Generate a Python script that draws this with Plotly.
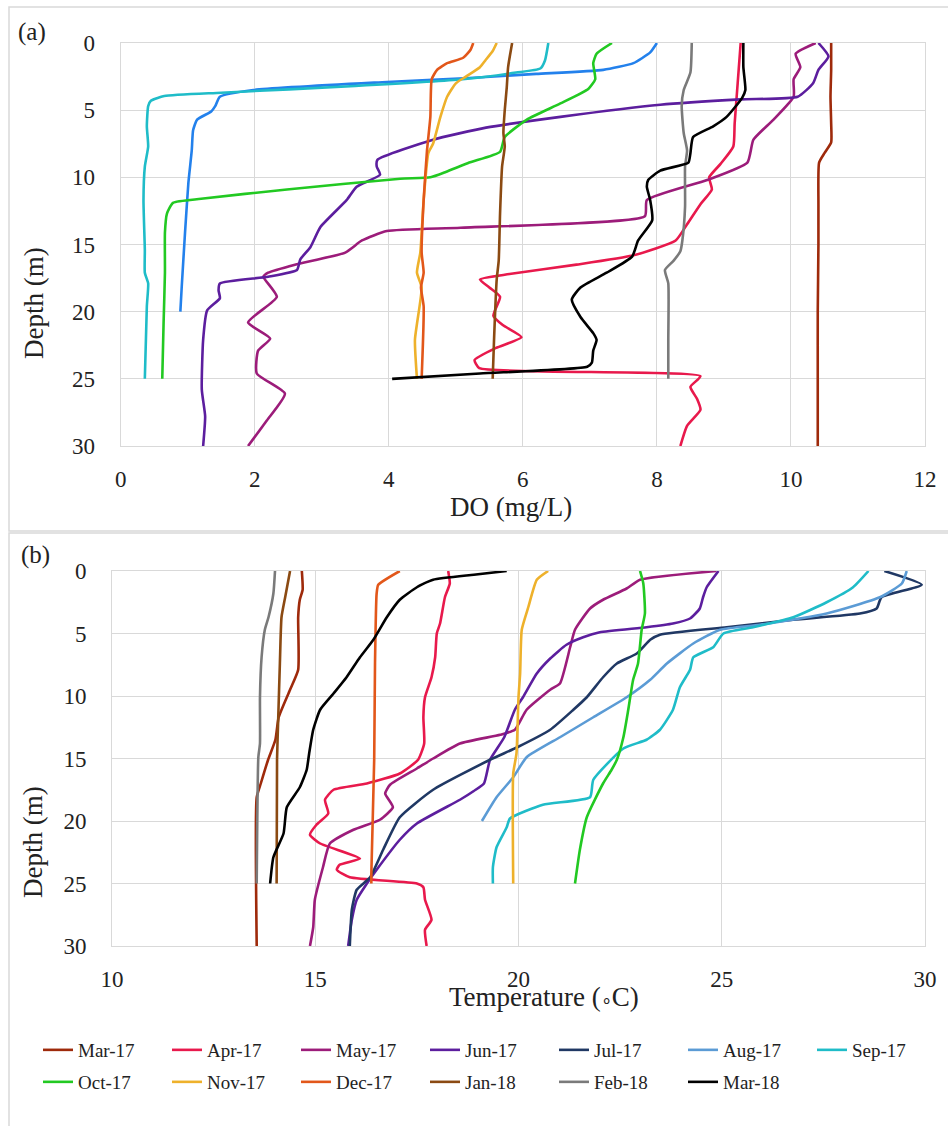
import plotly.graph_objects as go

W, H = 948, 1126
FONT = "Liberation Serif, Times New Roman, serif"

MONTHS = ["Mar-17", "Apr-17", "May-17", "Jun-17", "Jul-17", "Aug-17", "Sep-17",
          "Oct-17", "Nov-17", "Dec-17", "Jan-18", "Feb-18", "Mar-18"]
COLORS = ["#9e2a0b", "#e8194c", "#9c1c7a", "#5c1e9e", "#203864", "#5b9bd5", "#1fbcc8",
          "#22c922", "#eeb12b", "#e2571a", "#8b4a12", "#7a7a7a", "#000000"]
COLOR_A_AUG = "#2381ec"

X_TICKS_A = [0, 2, 4, 6, 8, 10, 12]
X_TICKS_B = [10, 15, 20, 25, 30]
Y_TICKS = [0, 5, 10, 15, 20, 25, 30]

# ---------------- (a) Dissolved oxygen profiles ----------------
DO_MAR17_DEPTH = [0, 2, 4, 6, 7.4, 8.2, 8.9, 12, 15, 20, 25, 30]
DO_MAR17 = [10.6, 10.6, 10.59, 10.6, 10.6, 10.5, 10.42, 10.41, 10.41, 10.4, 10.4, 10.4]

DO_APR17_DEPTH = [0, 2, 4, 6, 7.7, 9, 10, 10.9, 12, 13.5, 14.7, 15.8, 16.5, 17.2, 17.6,
                  18.2, 18.9, 20.3, 21, 21.9, 22.7, 23.6, 24.2, 24.8, 25.6, 26.5, 27.3, 28.5, 30]
DO_APR17 = [9.25, 9.22, 9.19, 9.16, 9.14, 8.95, 8.78, 8.82, 8.65, 8.45, 8.28, 7.65, 6.8, 5.8, 5.36,
            5.5, 5.66, 5.56, 5.7, 5.98, 5.6, 5.28, 5.35, 8.65, 8.5, 8.6, 8.65, 8.45, 8.35]

DO_MAY17_DEPTH = [0, 0.8, 1.8, 2.7, 4, 5.7, 7.2, 8.9, 10.2, 11.7, 12.9, 13.75, 14.0, 14.7, 15.6,
                  16.5, 17.1, 17.4, 18.9, 20.8, 22, 22.9, 24.6, 26.1, 28.1, 30]
DO_MAY17 = [10.37, 10.07, 10.14, 10.04, 10.04, 9.74, 9.44, 9.35, 8.75, 7.85, 7.82, 5.07, 3.97, 3.6, 3.35,
            2.6, 2.2, 2.13, 2.33, 1.9, 2.23, 2.05, 2.03, 2.45, 2.18, 1.9]

DO_JUN17_DEPTH = [0, 1, 2, 3, 4, 4.2, 4.6, 5.5, 6.3, 7.2, 8.7, 9.2, 9.8, 10.7, 11.7, 13.7, 15.2,
                  16.1, 16.9, 17.4, 17.9, 18.4, 19, 19.9, 22.1, 25.8, 27.8, 30]
DO_JUN17 = [10.41, 10.56, 10.41, 10.33, 10.1, 9.25, 8.05, 6.56, 5.45, 4.66, 3.83, 3.82, 3.87, 3.52, 3.37,
            2.98, 2.83, 2.68, 2.63, 2.2, 1.48, 1.46, 1.48, 1.29, 1.23, 1.21, 1.26, 1.23]

DO_AUG17_DEPTH = [0, 0.7, 1.5, 2.0, 2.3, 2.6, 2.9, 3.5, 4.0, 4.7, 5.1, 5.7, 6.5, 8, 10.4, 14.1, 18.2, 20]
DO_AUG17 = [8.0, 7.9, 7.65, 7.2, 6.2, 5.2, 3.97, 1.98, 1.48, 1.41, 1.35, 1.14, 1.08, 1.06, 1.01, 0.96, 0.91, 0.89]

DO_SEP17_DEPTH = [0, 1.3, 1.9, 2.2, 2.7, 3.2, 3.7, 3.95, 4.3, 4.7, 6.2, 7.7, 9.2, 11.7, 15.4, 17.1,
                  17.9, 19.6, 25]
DO_SEP17 = [6.38, 6.33, 6.26, 5.9, 5.1, 3.5, 1.5, 0.65, 0.45, 0.41, 0.39, 0.41, 0.36, 0.34, 0.36, 0.36,
            0.41, 0.39, 0.36]

DO_OCT17_DEPTH = [0, 0.8, 1.5, 2.7, 3.4, 4.5, 5.7, 7, 8.1, 8.9, 9.6, 10.0, 10.1, 10.9, 11.6, 11.9,
                  12.7, 14.1, 17.1, 20.8, 25]
DO_OCT17 = [7.33, 7.1, 7.05, 7.08, 6.98, 6.56, 6.06, 5.73, 5.66, 5.2, 4.85, 4.62, 4.17, 2.48, 1.2, 0.78,
            0.69, 0.66, 0.66, 0.64, 0.62]

DO_NOV17_DEPTH = [0, 0.6, 1.3, 1.8, 2.5, 3.0, 4, 5.5, 7.5, 8.2, 11.7, 15.6, 17.1, 18.2, 22.1, 25]
DO_NOV17 = [5.61, 5.55, 5.44, 5.36, 5.15, 5.0, 4.87, 4.77, 4.66, 4.59, 4.52, 4.47, 4.42, 4.49, 4.39, 4.42]

DO_DEC17_DEPTH = [0, 0.5, 1.1, 1.5, 2, 2.7, 5.5, 8, 11.7, 15.6, 17.1, 18.2, 19.6, 25]
DO_DEC17 = [5.26, 5.22, 5.11, 4.87, 4.72, 4.64, 4.62, 4.57, 4.52, 4.49, 4.52, 4.48, 4.52, 4.49]

DO_JAN18_DEPTH = [0, 1.8, 3.3, 5, 6.7, 7.7, 9.2, 12.7, 16.2, 17.6, 22.1, 25]
DO_JAN18 = [5.84, 5.78, 5.76, 5.73, 5.71, 5.73, 5.69, 5.66, 5.64, 5.61, 5.57, 5.55]

DO_FEB18_DEPTH = [0, 2.2, 3.5, 4.7, 6.7, 8, 9.2, 12.2, 14.7, 15.5, 16.2, 16.9, 17.9, 22.1, 25]
DO_FEB18 = [8.52, 8.5, 8.4, 8.37, 8.4, 8.45, 8.42, 8.42, 8.38, 8.35, 8.25, 8.12, 8.17, 8.17, 8.17]

DO_MAR18_DEPTH = [0, 1.8, 3.5, 4.1, 5.5, 6.2, 7, 8.2, 8.9, 9.5, 10.2, 10.7, 11.7, 13.2, 14.7, 15.9,
                  17.1, 18.2, 19.1, 20.4, 21.6, 22.1, 22.9, 23.8, 24.1, 24.6, 25]
DO_MAR18 = [9.29, 9.29, 9.32, 9.27, 9.04, 8.84, 8.54, 8.5, 8.47, 8.05, 7.87, 7.85, 7.9, 7.93, 7.72, 7.63,
            7.25, 6.86, 6.73, 6.86, 7.05, 7.1, 7.05, 7.03, 6.96, 5.36, 4.05]

# ---------------- (b) Temperature profiles ----------------
T_MAR17_DEPTH = [0, 1.5, 2.3, 3.7, 7.9, 9.5, 11.7, 13.5, 15.1, 17, 18.1, 30]
T_MAR17 = [14.67, 14.69, 14.62, 14.58, 14.58, 14.38, 14.1, 14.02, 13.84, 13.66, 13.56, 13.56]

T_APR17_DEPTH = [0, 1, 2.1, 4.2, 5, 6.9, 8.5, 10.1, 11.7, 13.8, 15.1, 16.2, 17, 17.5, 18.3, 19.4,
                 20.3, 21.1, 21.8, 23, 23.5, 23.9, 24.5, 25, 25.3, 26.3, 27.9, 28.7, 30]
T_APR17 = [18.27, 18.31, 18.19, 18.07, 17.99, 17.95, 17.86, 17.7, 17.66, 17.68, 17.53, 17.08, 16.27,
           15.45, 15.24, 15.32, 15.03, 14.87, 15.12, 16.1, 15.6, 15.53, 15.85, 17.5, 17.66, 17.7,
           17.86, 17.7, 17.74]

T_MAY17_DEPTH = [0, 0.7, 1.4, 2.3, 3, 4.7, 6.1, 9, 9.5, 11.1, 12.7, 13.1, 13.8, 15, 15.8, 17.1, 17.8,
                 18.9, 19.9, 20.7, 21.8, 23.7, 26.3, 28.5, 30]
T_MAY17 = [24.87, 22.99, 22.66, 22.08, 21.76, 21.39, 21.27, 21.02, 20.78, 20.2, 19.91, 19.55, 18.56,
           17.9, 17.5, 16.84, 16.72, 16.91, 16.59, 15.94, 15.36, 15.19, 14.99, 14.95, 14.87]

T_JUN17_DEPTH = [0, 1.3, 2.1, 3, 3.8, 4.2, 4.5, 4.9, 5.3, 5.9, 7, 8.2, 10.1, 11.1, 13.3, 15.1, 17,
                 17.6, 18.3, 20.2, 21.5, 23.9, 25, 26.3, 27.9, 30]
T_JUN17 = [24.92, 24.63, 24.54, 24.46, 24.22, 23.8, 23.15, 22.0, 21.59, 21.18, 20.78, 20.45, 20.11,
           19.91, 19.65, 19.3, 19.15, 18.9, 18.56, 17.5, 17.08, 16.51, 16.27, 16.02, 15.9, 15.81]

T_JUL17_DEPTH = [0, 1.1, 2.1, 3, 3.4, 3.9, 4.5, 5.1, 5.5, 6.6, 7.4, 8.5, 10.1, 11.1, 12.7, 14.1,
                 15.1, 17.5, 19.7, 22.3, 24.5, 25.5, 27.1, 30]
T_JUL17 = [29.0, 29.92, 28.93, 28.81, 28.4, 26.76, 25.12, 23.48, 23.24, 22.91, 22.42, 22.08, 21.68,
           21.35, 20.78, 19.97, 19.3, 17.9, 17.08, 16.67, 16.35, 16.02, 15.9, 15.85]

T_AUG17_DEPTH = [0, 1, 2.1, 3.4, 4.3, 4.7, 5.8, 7.4, 8.7, 10.1, 11.7, 13.3, 14.9, 16.5, 18.1, 20]
T_AUG17 = [29.55, 29.43, 28.89, 27.58, 25.94, 24.96, 24.3, 23.65, 23.24, 22.66, 21.84, 21.02, 20.2,
           19.87, 19.46, 19.1]

T_SEP17_DEPTH = [0, 1.3, 2.5, 3.7, 4.5, 5, 6.1, 6.9, 7.9, 9.3, 11.1, 12.7, 13.5, 14.2, 16.7, 18.1,
                 18.7, 19.8, 20.5, 22.1, 23.7, 25]
T_SEP17 = [28.61, 28.23, 27.58, 26.76, 25.77, 25.04, 24.79, 24.3, 24.22, 23.97, 23.8, 23.48, 23.15,
           22.58, 21.84, 21.76, 20.6, 19.79, 19.71, 19.46, 19.37, 19.37]

T_OCT17_DEPTH = [0, 1, 3.4, 4.7, 7.4, 8.7, 11.1, 13.3, 15.1, 15.9, 17, 19.7, 22.3, 25]
T_OCT17 = [22.99, 23.07, 23.11, 23.03, 22.94, 22.82, 22.7, 22.58, 22.42, 22.29, 22.08, 21.68, 21.51, 21.39]

T_NOV17_DEPTH = [0, 0.7, 2.9, 4.7, 8.2, 10.1, 14.6, 16.2, 25]
T_NOV17 = [20.73, 20.45, 20.24, 20.08, 20.04, 20.0, 19.95, 19.87, 19.87]

T_DEC17_DEPTH = [0, 1.1, 1.8, 7.4, 15.1, 24.2, 25]
T_DEC17 = [17.08, 16.55, 16.51, 16.47, 16.45, 16.38, 16.38]

T_JAN18_DEPTH = [0, 2.1, 3.7, 7.4, 11.7, 15.1, 25]
T_JAN18 = [14.38, 14.26, 14.17, 14.13, 14.09, 14.06, 14.05]

T_FEB18_DEPTH = [0, 1.8, 3.7, 4.7, 6.9, 10.1, 13.8, 14.9, 25]
T_FEB18 = [14.01, 13.97, 13.85, 13.76, 13.68, 13.64, 13.64, 13.6, 13.56]

T_MAR18_DEPTH = [0, 0.3, 0.7, 1.3, 2.3, 3.7, 5.5, 6.9, 8.5, 9.8, 11.1, 12.7, 14.6, 15.9, 17.3, 18.9, 21, 22.9, 25]
T_MAR18 = [19.71, 18.9, 17.9, 17.5, 17.08, 16.76, 16.43, 16.1, 15.77, 15.45, 15.12, 14.95, 14.85, 14.79,
           14.62, 14.3, 14.22, 13.97, 13.89]

DO_SERIES = {
    "Mar-17": (DO_MAR17, DO_MAR17_DEPTH), "Apr-17": (DO_APR17, DO_APR17_DEPTH),
    "May-17": (DO_MAY17, DO_MAY17_DEPTH), "Jun-17": (DO_JUN17, DO_JUN17_DEPTH),
    "Aug-17": (DO_AUG17, DO_AUG17_DEPTH), "Sep-17": (DO_SEP17, DO_SEP17_DEPTH),
    "Oct-17": (DO_OCT17, DO_OCT17_DEPTH), "Nov-17": (DO_NOV17, DO_NOV17_DEPTH),
    "Dec-17": (DO_DEC17, DO_DEC17_DEPTH), "Jan-18": (DO_JAN18, DO_JAN18_DEPTH),
    "Feb-18": (DO_FEB18, DO_FEB18_DEPTH), "Mar-18": (DO_MAR18, DO_MAR18_DEPTH),
}
T_SERIES = {
    "Mar-17": (T_MAR17, T_MAR17_DEPTH), "Apr-17": (T_APR17, T_APR17_DEPTH),
    "May-17": (T_MAY17, T_MAY17_DEPTH), "Jun-17": (T_JUN17, T_JUN17_DEPTH),
    "Jul-17": (T_JUL17, T_JUL17_DEPTH), "Aug-17": (T_AUG17, T_AUG17_DEPTH),
    "Sep-17": (T_SEP17, T_SEP17_DEPTH), "Oct-17": (T_OCT17, T_OCT17_DEPTH),
    "Nov-17": (T_NOV17, T_NOV17_DEPTH), "Dec-17": (T_DEC17, T_DEC17_DEPTH),
    "Jan-18": (T_JAN18, T_JAN18_DEPTH), "Feb-18": (T_FEB18, T_FEB18_DEPTH),
    "Mar-18": (T_MAR18, T_MAR18_DEPTH),
}

LW = 2.6
SMOOTH = 0.5

fig = go.Figure()

# panel (a)
for name, color in zip(MONTHS, COLORS):
    if name not in DO_SERIES:
        continue
    x, y = DO_SERIES[name]
    c = COLOR_A_AUG if name == "Aug-17" else color
    fig.add_trace(go.Scatter(x=x, y=y, mode="lines", name=name, xaxis="x", yaxis="y",
                             line=dict(color=c, width=LW, shape="spline", smoothing=SMOOTH),
                             showlegend=False))

# panel (b)
for i, (name, color) in enumerate(zip(MONTHS, COLORS)):
    x, y = T_SERIES[name]
    fig.add_trace(go.Scatter(x=x, y=y, mode="lines", name=name, xaxis="x2", yaxis="y2",
                             line=dict(color=color, width=LW, shape="spline", smoothing=SMOOTH),
                             showlegend=True, legend="legend" if i < 7 else "legend2"))


def px_x(p):
    return p / W


def px_y(p):
    return 1 - p / H


GRID = "#d9d9d9"
TXT = "#222222"
TICKFONT = dict(family=FONT, size=23, color=TXT)

axis_common = dict(showgrid=True, gridcolor=GRID, gridwidth=1, zeroline=False,
                   showline=True, linecolor=GRID, linewidth=1, mirror=True, automargin=False,
                   ticks="outside", tickcolor="rgba(0,0,0,0)", tickfont=TICKFONT)

LEG_FONT = dict(family=FONT, size=19, color=TXT)
LEG_COMMON = dict(orientation="h", x=px_x(38), xanchor="left", yanchor="middle",
                  entrywidth=84, entrywidthmode="pixels", itemwidth=30,
                  font=LEG_FONT, bgcolor="rgba(0,0,0,0)")

fig.update_layout(
    template="none",
    width=W, height=H,
    margin=dict(l=0, r=0, t=0, b=0, pad=0, autoexpand=False),
    paper_bgcolor="white", plot_bgcolor="white",
    font=dict(family=FONT, color=TXT),
    xaxis=dict(domain=[px_x(120.7), px_x(925)], range=[0, 12], tickvals=X_TICKS_A,
               anchor="y", ticklen=12, **axis_common),
    yaxis=dict(domain=[px_y(446), px_y(43)], range=[30, 0], tickvals=Y_TICKS,
               anchor="x", ticklen=20, **axis_common),
    xaxis2=dict(domain=[px_x(112), px_x(925)], range=[10, 30], tickvals=X_TICKS_B,
                anchor="y2", ticklen=12, **axis_common),
    yaxis2=dict(domain=[px_y(946), px_y(571)], range=[30, 0], tickvals=Y_TICKS,
                anchor="x2", ticklen=20, **axis_common),
    legend=dict(y=px_y(1050), **LEG_COMMON),
    legend2=dict(y=px_y(1082), **LEG_COMMON),
)

# chart-area borders
fig.add_shape(type="rect", xref="paper", yref="paper", x0=px_x(9), x1=px_x(960), y0=px_y(531), y1=px_y(7),
              line=dict(color=GRID, width=1.5), layer="below")
fig.add_shape(type="rect", xref="paper", yref="paper", x0=px_x(9), x1=px_x(960), y0=px_y(1140), y1=px_y(533),
              line=dict(color=GRID, width=1.5), layer="below")

TITLE_FONT = dict(family=FONT, size=27, color=TXT)
annos = [
    dict(text="(a)", x=px_x(32), y=px_y(32), font=dict(family=FONT, size=25, color=TXT)),
    dict(text="(b)", x=px_x(35), y=px_y(555), font=dict(family=FONT, size=25, color=TXT)),
    dict(text="DO (mg/L)", x=px_x(511), y=px_y(507), font=TITLE_FONT),
    dict(text="Temperature (<span style='font-size:18px'>∘</span>C)", x=px_x(544), y=px_y(997),
         font=TITLE_FONT),
    dict(text="Depth (m)", x=px_x(34), y=px_y(303), textangle=-90, font=TITLE_FONT),
    dict(text="Depth (m)", x=px_x(33), y=px_y(842), textangle=-90, font=TITLE_FONT),
]
for a in annos:
    fig.add_annotation(xref="paper", yref="paper", xanchor="center", yanchor="middle",
                       showarrow=False, **a)

fig.write_html("out.html")
